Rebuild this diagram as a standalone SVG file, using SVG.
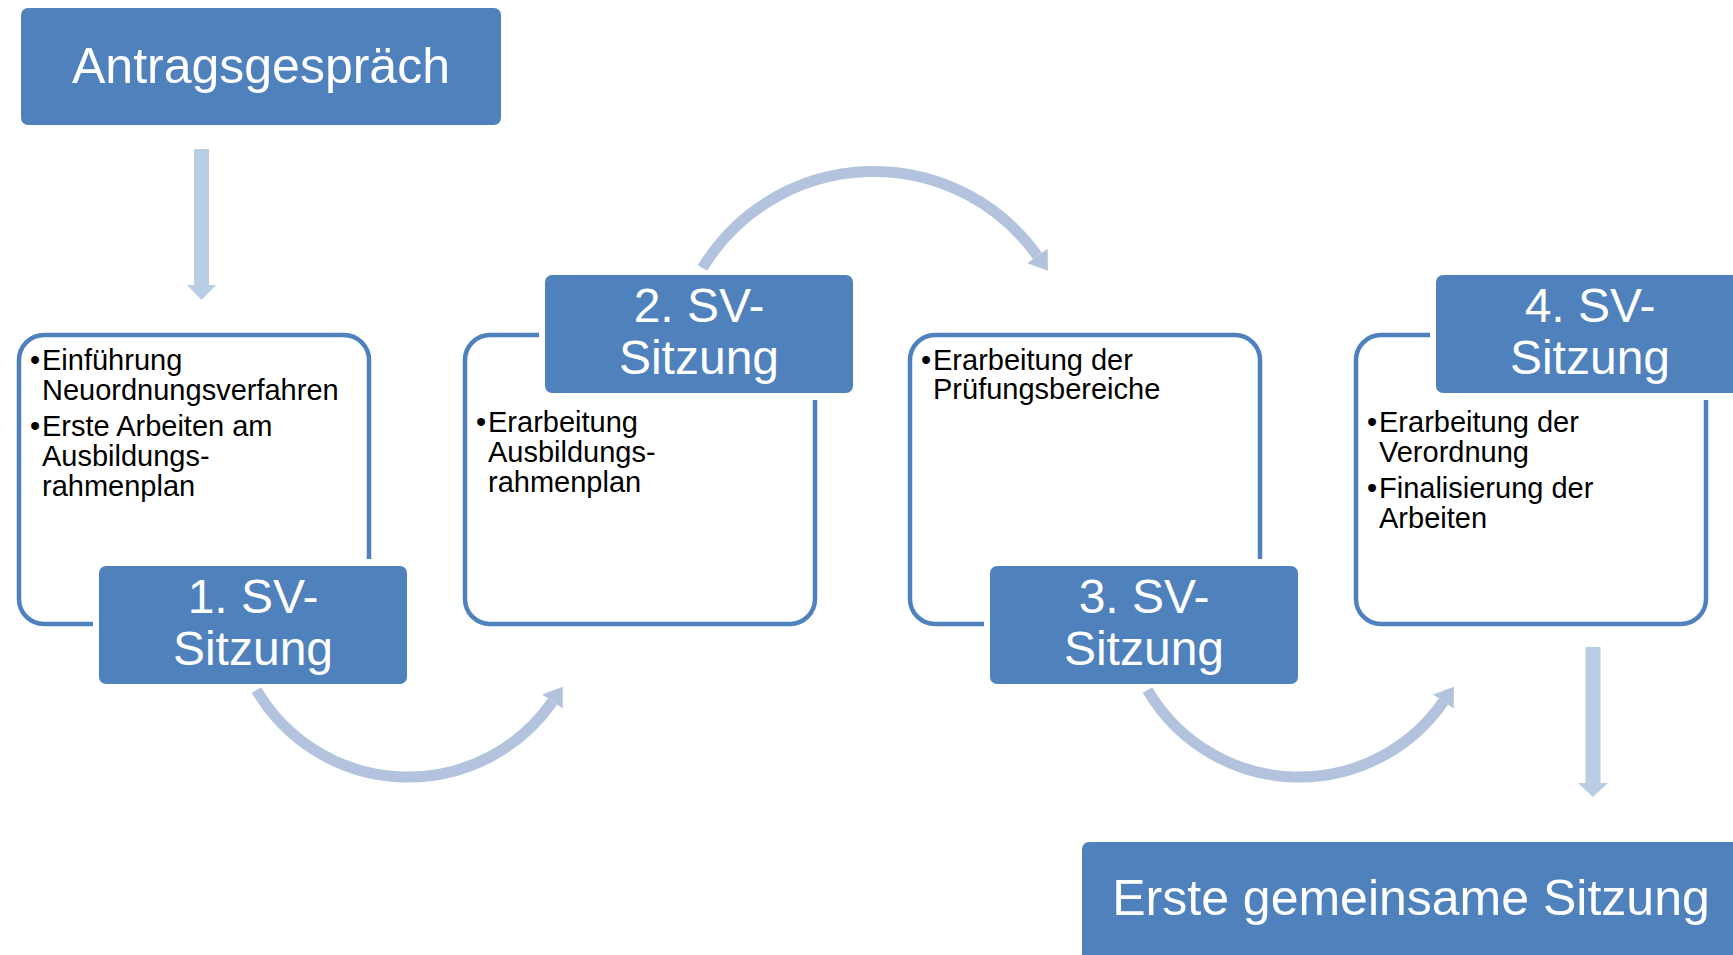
<svg xmlns="http://www.w3.org/2000/svg" width="1733" height="955" viewBox="0 0 1733 955">
<style>
.lbl{fill:#4f81bd}
.lt{font-family:"Liberation Sans",Arial,sans-serif;fill:#ffffff;text-anchor:middle}
.big{font-size:50px}
.mid{font-size:48px}
.frame{fill:none;stroke:#4f81bd;stroke-width:4.5}
.bt{font-family:"Liberation Sans",Arial,sans-serif;font-size:29px;fill:#000000}
.arc{fill:none;stroke:#b3c3de;stroke-width:11}
.arch{fill:#b3c3de}
.sa{fill:#b9cde5}
</style>
<rect width="1733" height="955" fill="#ffffff"/>
<g id="connectors">
  <path class="sa" d="M194 149 H209 V285 H216 L201.5 300 L187 285 H194 Z"/>
  <path class="sa" d="M1585.5 647 H1600.5 V783 H1608 L1593 797 L1578 783 H1585.5 Z"/>
  <path class="arc" d="M256.5 690 A175.6 175.6 0 0 0 552.5 701.5"/>
  <polygon class="arch" points="562.8,686.7 562.8,708.6 542.2,694.4"/>
  <path class="arc" d="M702.5 268 A200.4 200.4 0 0 1 1037.5 256"/>
  <polygon class="arch" points="1047.9,270.7 1047.7,248.8 1027.3,263.2"/>
  <path class="arc" d="M1147.5 690 A175.6 175.6 0 0 0 1443.5 701.5"/>
  <polygon class="arch" points="1453.8,686.7 1453.8,708.6 1433.2,694.4"/>
</g>
<g id="antrag">
  <rect class="lbl" x="21" y="8" width="480" height="117" rx="7"/>
  <text class="lt big" x="261" y="83">Antragsgespräch</text>
</g>
<g id="box1">
  <path class="frame" d="M369 559 V360 A25 25 0 0 0 344 335 H44 A25 25 0 0 0 19 360 V599 A25 25 0 0 0 44 624 H93"/>
  <text class="bt"><tspan x="30" y="370">•</tspan><tspan x="42" y="370">Einführung</tspan><tspan x="42" y="400">Neuordnungsverfahren</tspan><tspan x="30" y="436">•</tspan><tspan x="42" y="436">Erste Arbeiten am</tspan><tspan x="42" y="466">Ausbildungs-</tspan><tspan x="42" y="496">rahmenplan</tspan></text>
  <rect class="lbl" x="99" y="566" width="308" height="118" rx="7"/>
  <text class="lt mid"><tspan x="253" y="613">1. SV-</tspan><tspan x="253" y="665">Sitzung</tspan></text>
</g>
<g id="box2">
  <path class="frame" d="M539 335 H490 A25 25 0 0 0 465 360 V599 A25 25 0 0 0 490 624 H790 A25 25 0 0 0 815 599 V400"/>
  <text class="bt"><tspan x="476" y="432">•</tspan><tspan x="488" y="432">Erarbeitung</tspan><tspan x="488" y="462">Ausbildungs-</tspan><tspan x="488" y="492">rahmenplan</tspan></text>
  <rect class="lbl" x="545" y="275" width="308" height="118" rx="7"/>
  <text class="lt mid"><tspan x="699" y="322">2. SV-</tspan><tspan x="699" y="374">Sitzung</tspan></text>
</g>
<g id="box3">
  <path class="frame" d="M1260 559 V360 A25 25 0 0 0 1235 335 H935 A25 25 0 0 0 910 360 V599 A25 25 0 0 0 935 624 H984"/>
  <text class="bt"><tspan x="921" y="370">•</tspan><tspan x="933" y="370">Erarbeitung der</tspan><tspan x="933" y="399">Prüfungsbereiche</tspan></text>
  <rect class="lbl" x="990" y="566" width="308" height="118" rx="7"/>
  <text class="lt mid"><tspan x="1144" y="613">3. SV-</tspan><tspan x="1144" y="665">Sitzung</tspan></text>
</g>
<g id="box4">
  <path class="frame" d="M1430 335 H1381 A25 25 0 0 0 1356 360 V599 A25 25 0 0 0 1381 624 H1681 A25 25 0 0 0 1706 599 V400"/>
  <text class="bt"><tspan x="1367" y="432">•</tspan><tspan x="1379" y="432">Erarbeitung der</tspan><tspan x="1379" y="462">Verordnung</tspan><tspan x="1367" y="498">•</tspan><tspan x="1379" y="498">Finalisierung der</tspan><tspan x="1379" y="528">Arbeiten</tspan></text>
  <rect class="lbl" x="1436" y="275" width="308" height="118" rx="7"/>
  <text class="lt mid"><tspan x="1590" y="322">4. SV-</tspan><tspan x="1590" y="374">Sitzung</tspan></text>
</g>
<g id="erste">
  <rect class="lbl" x="1082" y="842" width="662" height="120" rx="7"/>
  <text class="lt big" x="1411" y="915">Erste gemeinsame Sitzung</text>
</g>
</svg>
